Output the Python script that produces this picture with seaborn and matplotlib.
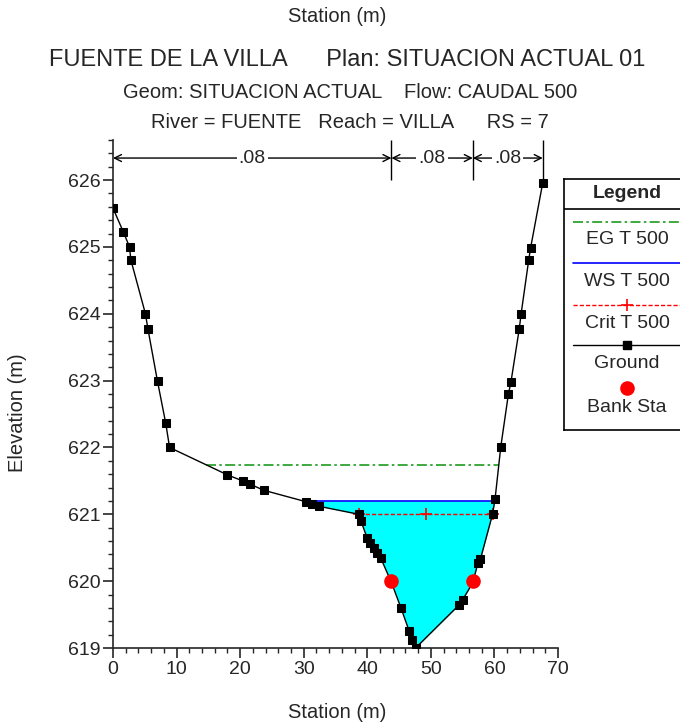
import numpy as np
import matplotlib
matplotlib.use('Agg')
import matplotlib.pyplot as plt
from matplotlib.lines import Line2D
from matplotlib.ticker import MultipleLocator
import seaborn as sns

# ground profile
station = [0.0, 1.6, 2.6, 2.8, 5.1, 5.5, 7.0, 8.3, 8.9, 18.0, 20.4, 21.6, 23.7,
           30.3, 31.3, 32.4, 38.7, 39.0, 40.0, 40.5, 41.0, 41.6, 42.1, 43.8,
           45.3, 46.6, 47.1, 47.6, 54.5, 55.0, 56.6, 57.4, 57.8, 59.7, 60.1,
           61.0, 62.2, 62.6, 63.9, 64.2, 65.4, 65.7, 67.6]
elevation = [625.58, 625.23, 625.0, 624.81, 624.0, 623.77, 622.99, 622.36, 622.0,
             621.59, 621.5, 621.45, 621.36, 621.19, 621.15, 621.12, 621.0, 620.9,
             620.64, 620.57, 620.5, 620.42, 620.35, 619.98, 619.6, 619.25, 619.12,
             619.0, 619.65, 619.72, 619.98, 620.27, 620.33, 621.0, 621.23, 622.01,
             622.8, 622.98, 623.77, 624.0, 624.81, 624.99, 625.96]
bank_sta = [43.8, 56.6]
bank_elev = [620.0, 620.0]
eg_elev = 621.74
ws_elev = 621.2
crit_elev = 621.0
n_values = ['.08', '.08', '.08']
n_breaks = [0.0, 43.8, 56.6, 67.6]

title = 'FUENTE DE LA VILLA      Plan: SITUACION ACTUAL 01'
sub1 = 'Geom: SITUACION ACTUAL    Flow: CAUDAL 500'
sub2 = 'River = FUENTE   Reach = VILLA      RS = 7'

sns.set_style('ticks')
plt.rcParams['font.family'] = ['Liberation Sans', 'DejaVu Sans']

EG_COL = '#1f9a1f'
CRIT_DASH = (3, 1.5)
EG_DASH = (6, 2, 1.5, 2)


def crossings(level):
    st = np.array(station)
    el = np.array(elevation)
    i0 = int(np.argmin(el))
    left = i0
    while left > 0 and el[left - 1] < level:
        left -= 1
    x_l = np.interp(level, [el[left], el[left - 1]], [st[left], st[left - 1]])
    right = i0
    while right < len(el) - 1 and el[right + 1] < level:
        right += 1
    x_r = np.interp(level, [el[right], el[right + 1]], [st[right], st[right + 1]])
    return x_l, x_r, left, right


fig = plt.figure(figsize=(6.8, 7.25), dpi=100)
ax = fig.add_axes([113 / 680, 1 - 648 / 725, 445 / 680, 508 / 725])

# water fill
x_l, x_r, il, ir = crossings(ws_elev)
fx = [x_l] + station[il:ir + 1] + [x_r]
fy = [ws_elev] + elevation[il:ir + 1] + [ws_elev]
ax.fill_between(fx, fy, ws_elev, color='#00ffff', lw=0, zorder=1)

# EG
e_l, e_r, _, _ = crossings(eg_elev)
ax.plot([e_l, e_r], [eg_elev, eg_elev], color=EG_COL, lw=1.2, dashes=EG_DASH, zorder=2)
# WS
ax.plot([x_l, x_r], [ws_elev, ws_elev], color='blue', lw=1.2, zorder=3)
# Crit
c_l, c_r, _, _ = crossings(crit_elev)
ax.plot([c_l, c_r], [crit_elev, crit_elev], color='red', lw=1.0, dashes=CRIT_DASH, zorder=3)
ax.plot([c_l, (c_l + c_r) / 2, c_r], [crit_elev] * 3, ls='none', marker='+',
        color='red', ms=8, mew=1.2, zorder=4)

# ground
sns.lineplot(x=station, y=elevation, sort=False, color='black', lw=1.0,
             marker='s', markersize=6, markeredgecolor='black', ax=ax, zorder=5)
# bank stations
ax.plot(bank_sta, bank_elev, ls='none', marker='o', color='red', ms=9.5, zorder=6)

ax.set_xlim(0, 70)
ax.set_ylim(619, 626.6)

# n values across the top
y_arrow = 626.33
ax.vlines(n_breaks[1:], 626.0, 626.6, color='black', lw=1.0, clip_on=False)
for a, b, lab in zip(n_breaks[:-1], n_breaks[1:], n_values):
    ax.annotate('', xy=(a, y_arrow), xytext=(b, y_arrow),
                arrowprops=dict(arrowstyle='<->,head_length=0.5,head_width=0.25',
                                lw=1.0, color='black', shrinkA=0, shrinkB=0))
    ax.text((a + b) / 2, y_arrow, lab, ha='center', va='center', fontsize=14,
            bbox=dict(facecolor='white', edgecolor='none', pad=1.5))

ax.xaxis.set_major_locator(MultipleLocator(10))
ax.xaxis.set_minor_locator(MultipleLocator(2))
ax.yaxis.set_major_locator(MultipleLocator(1))
ax.yaxis.set_minor_locator(MultipleLocator(0.2))
ax.tick_params(which='major', direction='out', length=7, width=1.2, labelsize=14, pad=2)
ax.tick_params(which='minor', direction='out', length=3.5, width=1.0)
for s in ['top', 'right']:
    ax.spines[s].set_visible(False)
for s in ['left', 'bottom']:
    ax.spines[s].set_linewidth(1.2)
ax.set_xlabel('')
ax.set_ylabel('')

fig.text(18 / 680, 1 - 413 / 725, 'Elevation (m)', rotation=90, ha='center', va='center', fontsize=14.5)
fig.text(337 / 680, 1 - 712 / 725, 'Station (m)', ha='center', va='center', fontsize=14.5)
fig.text(337 / 680, 1 - 16 / 725, 'Station (m)', ha='center', va='center', fontsize=14.5)
fig.text(347 / 680, 1 - 60 / 725, title, ha='center', va='center', fontsize=17)
fig.text(350 / 680, 1 - 92 / 725, sub1, ha='center', va='center', fontsize=14.5)
fig.text(350 / 680, 1 - 122 / 725, sub2, ha='center', va='center', fontsize=14.5)

# legend box
lax = fig.add_axes([564 / 680, 1 - 430 / 725, 126 / 680, 251 / 725])
lax.set_xlim(564, 690)
lax.set_ylim(430, 179)
lax.set_xticks([])
lax.set_yticks([])
for s in lax.spines.values():
    s.set_linewidth(1.2)
    s.set_color('black')
lax.axhline(209, color='black', lw=1.2)
lax.text(627, 194, 'Legend', ha='center', va='center', fontsize=14, fontweight='bold')
lax.add_line(Line2D([573, 690], [222, 222], color=EG_COL, lw=1.2, dashes=EG_DASH))
lax.text(627, 240, 'EG T 500', ha='center', va='center', fontsize=14)
lax.add_line(Line2D([573, 690], [263, 263], color='blue', lw=1.2))
lax.text(627, 282, 'WS T 500', ha='center', va='center', fontsize=14)
lax.add_line(Line2D([573, 690], [305, 305], color='red', lw=1.0, dashes=CRIT_DASH))
lax.plot([627], [305], marker='+', color='red', ms=8, mew=1.2)
lax.text(627, 323, 'Crit T 500', ha='center', va='center', fontsize=14)
lax.add_line(Line2D([573, 690], [345, 345], color='black', lw=1.0))
lax.plot([627], [345], marker='s', color='black', ms=6)
lax.text(627, 364, 'Ground', ha='center', va='center', fontsize=14)
lax.plot([627], [388], marker='o', color='red', ms=9.5)
lax.text(627, 408, 'Bank Sta', ha='center', va='center', fontsize=14)

fig.savefig('out.png', dpi=100)
